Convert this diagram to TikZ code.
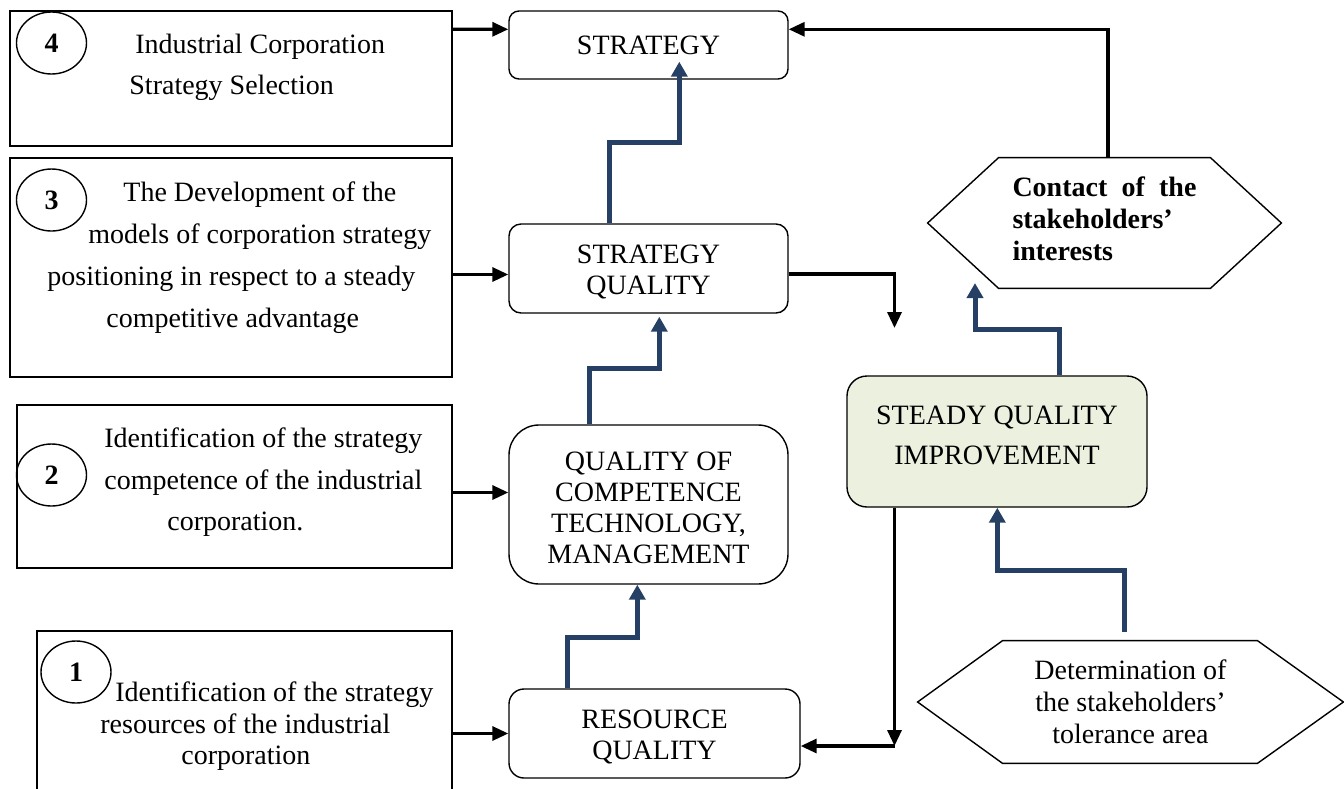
\documentclass[tikz,border=0pt]{standalone}
\usepackage{fontspec}
\setmainfont{Liberation Serif}
\usetikzlibrary{arrows.meta,calc,shapes.geometric}
\definecolor{arrowblue}{HTML}{264065}
\definecolor{steadygreen}{HTML}{EBF1DE}
\newcommand{\topstrut}{\rule{0pt}{12.5pt}}

\tikzset{
    leftbox/.style={draw, line width=0.8pt, inner sep=0pt},
    lefttext/.style={anchor=west, align=left, inner sep=0pt, font=\fontsize{14pt}{#1}\selectfont},
    lefttext/.default=21pt,
    numcircle/.style={draw, ellipse, line width=0.7pt, minimum width=35pt, minimum height=31pt, inner sep=0pt, font=\bfseries\fontsize{14pt}{16pt}\selectfont},
    roundbox/.style={draw, line width=0.7pt, rounded corners=#1, align=center, minimum width=139.5pt, inner sep=2pt, font=\fontsize{14pt}{15.5pt}\selectfont},
    roundbox/.default=6pt,
    hexnode/.style={minimum width=#1, align=center, inner sep=0pt, font=\fontsize{14pt}{16pt}\selectfont},
    blackarr/.style={line width=1.6pt, -{Triangle[length=8pt,width=7pt]}},
    bluearr/.style={arrowblue, line width=2.5pt, -{Triangle[length=7.5pt,width=8pt]}},
}

\begin{document}
\begin{tikzpicture}[x=0.5pt, y=-0.5pt]
    \clip (0,0) rectangle (1344,788);

    % left column
    \node[leftbox, minimum width=221pt, minimum height=67.5pt] (box4) at (231,78.5) {};
    \node[leftbox, minimum width=221pt, minimum height=109.5pt] (box3) at (231,267.5) {};
    \node[leftbox, minimum width=217.5pt, minimum height=81.5pt] (box2) at (234.5,486.5) {};
    \node[leftbox, minimum width=207.5pt, minimum height=84.5pt] (box1) at (244.5,715.5) {};

    \node[numcircle] (num4) at (51.5,43) {4};
    \node[numcircle] (num3) at (51.5,200) {3};
    \node[numcircle] (num2) at (51.5,475) {2};
    \node[numcircle] (num1) at (76,672) {1};

    \node[lefttext=20.5pt] (txt4) at (129,67.5) {\hspace*{3pt}Industrial Corporation\\Strategy Selection};
    \node[lefttext] (txt3) at (47,257.5) {\hspace*{38pt}The Development of the\\
        \hspace*{20.5pt}models of corporation strategy\\
        positioning in respect to a steady\\
        \hspace*{29.5pt}competitive advantage};
    \node[lefttext=20.75pt] (txt2) at (104,482.5) {Identification of the strategy\\competence of the industrial\\\hspace*{31.5pt}corporation.};
    \node[lefttext=15.75pt] (txt1) at (100,726.5) {\hspace*{7.5pt}Identification of the strategy\\resources of the industrial\\\hspace*{40.5pt}corporation};

    % middle column
    \node[roundbox=5pt, minimum height=34pt] (strat) at (648.5,45) {STRATEGY};
    \node[roundbox, minimum height=44.5pt] (sq) at (648.5,268.5) {\topstrut STRATEGY\\QUALITY};
    \node[roundbox=15pt, minimum height=79.5pt] (qc) at (648.5,504.5) {\topstrut QUALITY OF\\COMPETENCE\\TECHNOLOGY,\\MANAGEMENT};
    \node[roundbox=7.5pt, minimum width=145.5pt, minimum height=44.5pt] (rq) at (654.5,733.5) {\topstrut RESOURCE\\QUALITY};

    % right column
    \node[roundbox=10pt, fill=steadygreen, minimum width=150pt, minimum height=65.5pt, font=\fontsize{14pt}{20pt}\selectfont] (sqi) at (997,441.5) {STEADY QUALITY\\IMPROVEMENT\\[-14pt]\mbox{}};

    \node[hexnode=176.5pt, minimum height=65pt, text width=92pt, align=left, font=\bfseries\fontsize{14pt}{16pt}\selectfont] (contact) at (1104.5,223) {Contact\hfill of\hfill the\\stakeholders’\\interests\\[-12pt]\mbox{}};
    \draw[line width=0.7pt] (contact.west) -- ($(contact.north west)+(71,0)$) -- ($(contact.north east)+(-71,0)$)
        -- (contact.east) -- ($(contact.south east)+(-71,0)$) -- ($(contact.south west)+(71,0)$) -- cycle;

    \node[hexnode=212.5pt, minimum height=61pt] (determ) at (1130.5,702) {Determination of\\the stakeholders’\\tolerance area};
    \draw[line width=0.7pt] (determ.west) -- ($(determ.north west)+(85,0)$) -- ($(determ.north east)+(-86,0)$)
        -- (determ.east) -- ($(determ.south east)+(-86,0)$) -- ($(determ.south west)+(85,0)$) -- cycle;

    \coordinate (sqdrop) at (894.5,328);
    \coordinate (rqcorner) at (894.5,746);
    \coordinate (contactin) at (975,283);

    % black arrows
    \draw[blackarr] ($(box4.north east)+(0,19)$) -- ($(strat.north west)+(0,19)$);
    \draw[blackarr] ($(sq.west -| box3.east)+(0,6)$) -- ($(sq.west)+(0,6)$);
    \draw[blackarr] ($(qc.west -| box2.east)+(0,-12)$) -- ($(qc.west)+(0,-12)$);
    \draw[blackarr] (rq.west -| box1.east) -- (rq.west);
    \draw[blackarr] ($(contact.north)+(3.5,0)$) |- ($(strat.north east)+(0,19)$);
    \draw[blackarr] ($(sq.east)+(0,5.5)$) -| (sqdrop);
    \draw[blackarr] (sqi.south -| rqcorner) -- (rqcorner);
    \draw[blackarr] (rqcorner) -- (rqcorner -| rq.east);

    % blue arrows
    \draw[bluearr] ($(rq.north west)+(59,0)$) |- ($(qc.south west)+(129,53)$) -- ($(qc.south west)+(129,0)$);
    \draw[bluearr] ($(qc.north west)+(81,0)$) |- ($(sq.south west)+(151,55)$) -- ($(sq.south west)+(151,3)$);
    \draw[bluearr] ($(sq.north west)+(101,0)$) |- ($(strat.south west)+(171,63)$) -- ($(strat.south west)+(171,-18)$);
    \draw[bluearr] ($(sqi.north west)+(213,0)$) |- ($(contactin)+(0,46)$) -- (contactin);
    \draw[bluearr] ($(determ.north)+(-6.5,-9)$) |- ($(sqi.south west)+(151,63)$) -- ($(sqi.south west)+(151,0)$);
\end{tikzpicture}
\end{document}
